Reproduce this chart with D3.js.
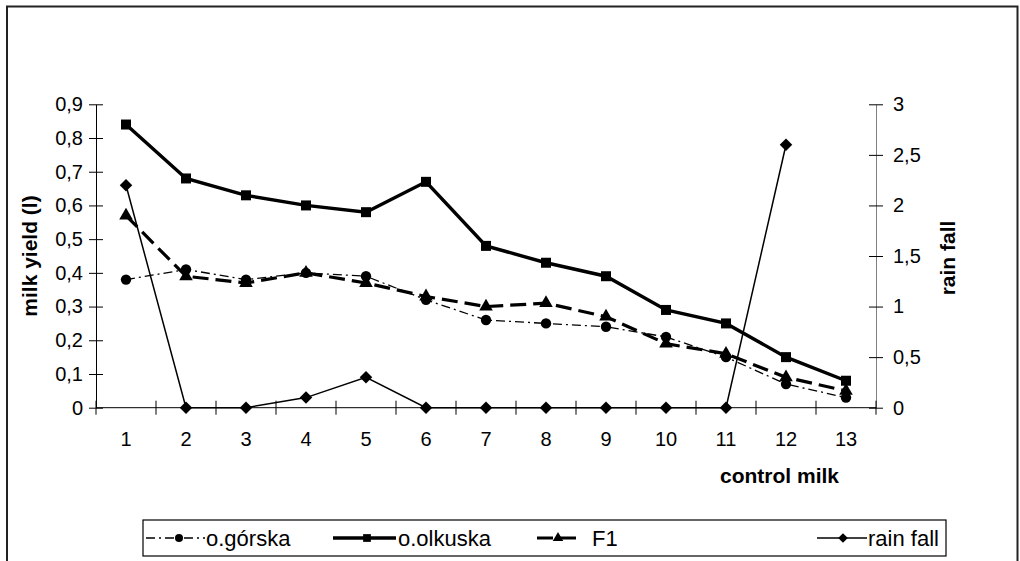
<!DOCTYPE html>
<html>
<head>
<meta charset="utf-8">
<script src="https://cdn.jsdelivr.net/npm/d3@7"></script>
<style>
  html, body { margin: 0; padding: 0; background: #fff; }
  svg { display: block; font-family: "Liberation Sans", Arial, sans-serif; }
</style>
</head>
<body>
<svg id="chart" width="1020" height="561"></svg>
<script>
// Control milkings 1..13
const categories = ["1","2","3","4","5","6","7","8","9","10","11","12","13"];

// Milk yield (l) per breed
const gorska   = [0.38, 0.41, 0.38, 0.40, 0.39, 0.32, 0.26, 0.25, 0.24, 0.21, 0.15, 0.07, 0.03];
const olkuska  = [0.84, 0.68, 0.63, 0.60, 0.58, 0.67, 0.48, 0.43, 0.39, 0.29, 0.25, 0.15, 0.08];
const f1       = [0.57, 0.39, 0.37, 0.40, 0.37, 0.33, 0.30, 0.31, 0.27, 0.19, 0.16, 0.09, 0.05];

// Rain fall (secondary axis); no reading at the last control
const rainFall = [2.2, 0, 0, 0.1, 0.3, 0, 0, 0, 0, 0, 0, 2.6, null];

const leftTicks  = [0, 0.1, 0.2, 0.3, 0.4, 0.5, 0.6, 0.7, 0.8, 0.9];
const rightTicks = [0, 0.5, 1, 1.5, 2, 2.5, 3];

const seriesNames = ["o.górska", "o.olkuska", "F1", "rain fall"];

const svg = d3.select("#chart");
const fmt = v => String(v).replace(".", ",");

// Outer chart frame
svg.append("rect")
  .attr("x", 7).attr("y", 6.5)
  .attr("width", 1010.5).attr("height", 600)
  .attr("fill", "none").attr("stroke", "#222").attr("stroke-width", 2);

const plot = { left: 96, right: 876, top: 104.3, bottom: 407.7 };

const x = d3.scaleBand().domain(categories).range([plot.left, plot.right]);
const yL = d3.scaleLinear().domain([0, 0.9]).range([plot.bottom, plot.top]);
const yR = d3.scaleLinear().domain([0, 3]).range([plot.bottom, plot.top]);
const cx = c => x(c) + x.bandwidth() / 2;

// Axes: cross-style tick marks, like a spreadsheet chart
const tickLen = 7;
const axisLeft = d3.axisLeft(yL).tickValues(leftTicks).tickFormat(fmt).tickSizeInner(tickLen).tickSizeOuter(0).tickPadding(6);
const gL = svg.append("g").attr("transform", `translate(${plot.left},0)`).call(axisLeft);
gL.select(".domain").attr("stroke", "#000");
gL.selectAll(".tick line").attr("x2", tickLen).attr("x1", -tickLen).attr("stroke", "#000");
gL.selectAll(".tick text").attr("font-size", 20).attr("fill", "#000").attr("x", -13);

const axisRight = d3.axisRight(yR).tickValues(rightTicks).tickFormat(fmt).tickSizeInner(tickLen).tickSizeOuter(0).tickPadding(6);
const gR = svg.append("g").attr("transform", `translate(${plot.right},0)`).call(axisRight);
gR.select(".domain").attr("stroke", "#808080");
gR.selectAll(".tick line").attr("x1", -tickLen).attr("x2", tickLen).attr("stroke", "#000");
gR.selectAll(".tick text").attr("font-size", 20).attr("fill", "#000").attr("x", 17);

// Category axis: ticks sit on the band boundaries
const boundaries = categories.map(c => x(c)).concat([plot.right]);
const gX = svg.append("g");
gX.append("line")
  .attr("x1", plot.left).attr("x2", plot.right)
  .attr("y1", plot.bottom).attr("y2", plot.bottom)
  .attr("stroke", "#000");
gX.selectAll("line.tk").data(boundaries).join("line").attr("class", "tk")
  .attr("x1", d => d).attr("x2", d => d)
  .attr("y1", plot.bottom - tickLen).attr("y2", plot.bottom + tickLen)
  .attr("stroke", "#000");
gX.selectAll("text").data(categories).join("text")
  .attr("x", d => cx(d)).attr("y", 446)
  .attr("text-anchor", "middle").attr("font-size", 20).attr("fill", "#000")
  .text(d => d);

// Axis titles
svg.append("text")
  .attr("transform", "translate(37,256) rotate(-90)")
  .attr("text-anchor", "middle").attr("font-size", 21).attr("font-weight", "bold")
  .text("milk yield (l)");
svg.append("text")
  .attr("transform", "translate(955,258) rotate(-90)")
  .attr("text-anchor", "middle").attr("font-size", 21).attr("font-weight", "bold")
  .text("rain fall");
svg.append("text")
  .attr("x", 779.5).attr("y", 483)
  .attr("text-anchor", "middle").attr("font-size", 21).attr("font-weight", "bold")
  .text("control milk");

// Series styling; the diamond is a square turned by 45 degrees
const styles = [
  { values: gorska,   scale: yL, width: 1.3, dash: "9,4,2,4", marker: d3.symbolCircle,   size: 85,  rot: 0 },
  { values: olkuska,  scale: yL, width: 3.4, dash: null,      marker: d3.symbolSquare,   size: 100, rot: 0 },
  { values: f1,       scale: yL, width: 3.2, dash: "16,7",    marker: d3.symbolTriangle, size: 80,  rot: 0 },
  { values: rainFall, scale: yR, width: 1.5, dash: null,      marker: d3.symbolSquare,   size: 78,  rot: 45 }
];

styles.forEach((s, i) => {
  const pts = categories.map((c, k) => ({ c, v: s.values[k] }));
  const line = d3.line()
    .defined(d => d.v !== null)
    .x(d => cx(d.c)).y(d => s.scale(d.v));
  const g = svg.append("g").attr("class", "series-" + i);
  g.append("path").datum(pts)
    .attr("d", line).attr("fill", "none").attr("stroke", "#000")
    .attr("stroke-width", s.width)
    .attr("stroke-dasharray", s.dash);
  g.selectAll("path.mk").data(pts.filter(d => d.v !== null)).join("path").attr("class", "mk")
    .attr("d", d3.symbol().type(s.marker).size(s.size))
    .attr("transform", d => `translate(${cx(d.c)},${s.scale(d.v)}) rotate(${s.rot})`)
    .attr("fill", "#000");
});

// Legend
const legend = svg.append("g");
legend.append("rect")
  .attr("x", 143).attr("y", 520).attr("width", 803).attr("height", 36)
  .attr("fill", "#fff").attr("stroke", "#000").attr("stroke-width", 1.2);
const legendPos = [
  { x1: 146, x2: 205, mx: 179, tx: 206 },
  { x1: 333, x2: 396, mx: 367, tx: 398 },
  { x1: 537, x2: 579, mx: 558, tx: 592 },
  { x1: 817, x2: 867, mx: 843, tx: 868 }
];
const ly = 538;
seriesNames.forEach((name, i) => {
  const s = styles[i], p = legendPos[i];
  legend.append("line")
    .attr("x1", p.x1).attr("x2", p.x2).attr("y1", ly).attr("y2", ly)
    .attr("stroke", "#000").attr("stroke-width", s.width)
    .attr("stroke-dasharray", s.dash);
  legend.append("path")
    .attr("d", d3.symbol().type(s.marker).size(s.size * 0.6))
    .attr("transform", `translate(${p.mx},${ly}) rotate(${s.rot})`).attr("fill", "#000");
  legend.append("text")
    .attr("x", p.tx).attr("y", ly + 8).attr("font-size", 22).attr("fill", "#000")
    .text(name);
});
</script>
</body>
</html>
